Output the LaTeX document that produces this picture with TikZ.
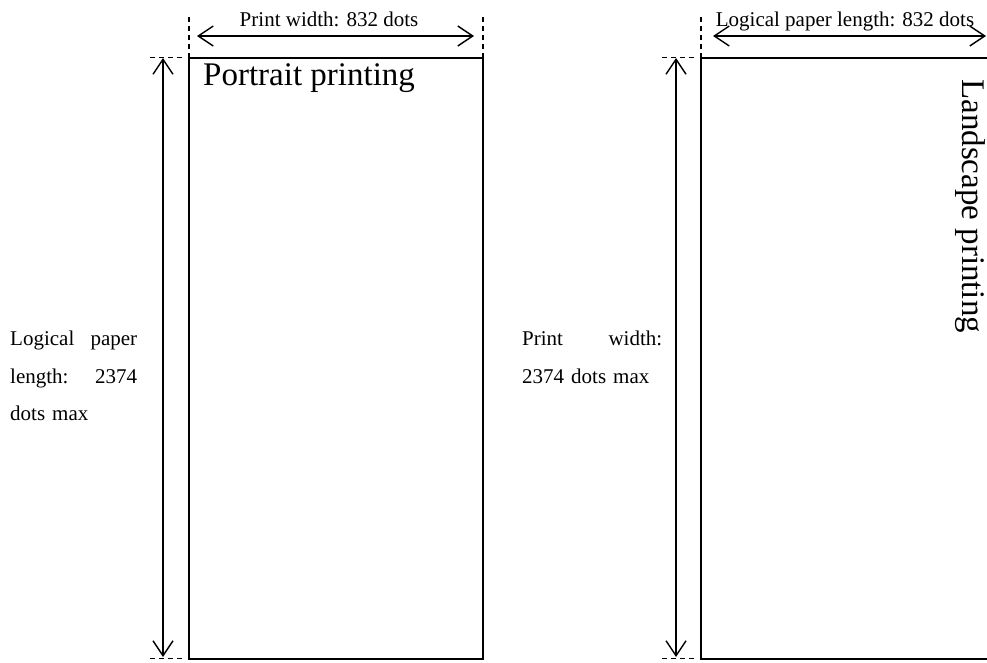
\documentclass[tikz,border=0pt]{standalone}
\usepackage{fontspec}
\setmainfont{Liberation Serif}
\usetikzlibrary{arrows.meta}
\begin{document}
\begin{tikzpicture}[x=1pt,y=-1pt,
  boxline/.style={draw,line width=2pt,inner sep=0pt,outer sep=0pt},
  dimline/.style={line width=1.4pt,{Straight Barb[length=15pt,width=20pt,line width=1.4pt]}-{Straight Barb[length=15pt,width=20pt,line width=1.4pt]}},
  extline/.style={line width=1.4pt,dash pattern=on 5pt off 4pt},
  lbl/.style={font=\fontsize{21}{37.5}\selectfont,inner sep=0pt},
  big/.style={font=\fontsize{33}{40}\selectfont,inner sep=0pt}]
\useasboundingbox (0,0) rectangle (987,662);
% boxes
\node[boxline,minimum width=294pt,minimum height=601pt,anchor=north west] (pbox) at (189,57.5) {};
\node[boxline,minimum width=320pt,minimum height=601pt,anchor=north west] (lbox) at (701,57.5) {};
% titles
\node[big,anchor=base west] (ptxt) at (203,85) {Portrait printing};
\node[big,rotate=-90,anchor=base west] (ltxt) at (962,79) {Landscape printing};
% portrait top dimension
\coordinate (pA) at (189,15);
\coordinate (pB) at (483,15);
\draw[extline] (pbox.north west) -- (pA);
\draw[extline] (pbox.north east) -- (pB);
\coordinate (pL) at (197,36);
\coordinate (pR) at (474,36);
\draw[dimline] (pL) -- (pR);
\node[lbl,anchor=base] (pw) at (329,26) {Print width: 832 dots};
% portrait side dimension
\coordinate (pe1) at (150,57.5);
\coordinate (pe2) at (185,57.5);
\coordinate (pe3) at (150,658.5);
\coordinate (pe4) at (185,658.5);
\draw[extline] (pe1) -- (pe2);
\draw[extline] (pe3) -- (pe4);
\coordinate (pT) at (163,58);
\coordinate (pD) at (163,657);
\draw[dimline] (pT) -- (pD);
\node[lbl,align=left,text width=127pt,anchor=north west] (plen) at (10,331) {Logical\hfill paper\\length:\hfill 2374\\dots max};
% landscape top dimension
\coordinate (lA) at (701,15);
\draw[extline] (lbox.north west) -- (lA);
\coordinate (lL) at (713,36);
\coordinate (lR) at (986,36);
\draw[dimline] (lL) -- (lR);
\node[lbl,anchor=base] (lw) at (845,26) {Logical paper length: 832 dots};
% landscape side dimension
\coordinate (le1) at (662,57.5);
\coordinate (le2) at (697,57.5);
\coordinate (le3) at (662,658.5);
\coordinate (le4) at (697,658.5);
\draw[extline] (le1) -- (le2);
\draw[extline] (le3) -- (le4);
\coordinate (lT) at (676,58);
\coordinate (lD) at (676,657);
\draw[dimline] (lT) -- (lD);
\node[lbl,align=left,text width=140pt,anchor=north west] (lpw) at (522,331) {Print\hfill width:\\2374 dots max};
\end{tikzpicture}
\end{document}
